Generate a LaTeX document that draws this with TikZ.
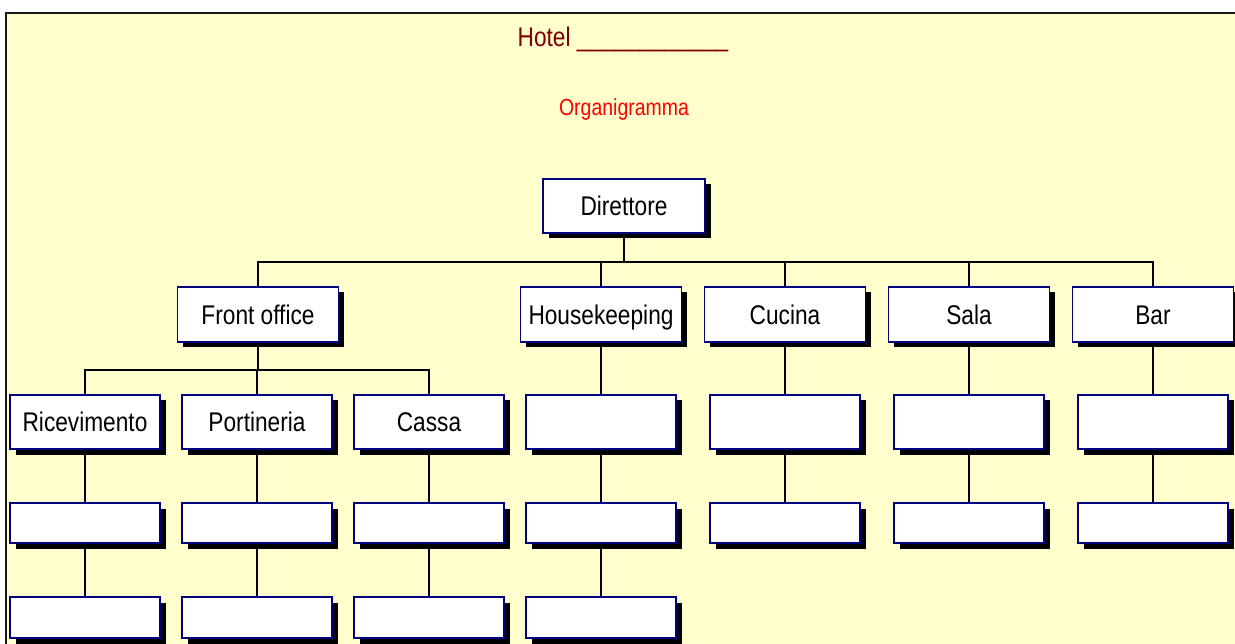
\documentclass[tikz,border=0pt]{standalone}
\usepackage{fontspec}
\usetikzlibrary{shadows}
\newfontfamily\orgfont[FakeStretch=0.84]{Liberation Sans}
\definecolor{paper}{RGB}{255,254,204}
\definecolor{boxline}{RGB}{0,0,128}
\definecolor{titlered}{RGB}{128,0,0}
\definecolor{subred}{RGB}{255,0,0}
\pgfdeclarelayer{paperlayer}
\pgfdeclarelayer{linklayer}
\pgfsetlayers{paperlayer,linklayer,main}
\tikzset{
  orgbox/.style={draw=boxline, line width=1.6pt, fill=white, inner sep=0pt,
    font=\orgfont\fontsize{27}{32}\selectfont, text height=19.3pt, text depth=0pt,
    drop shadow={shadow xshift=5.5pt, shadow yshift=-5.5pt, fill=black, opacity=1}},
  toprole/.style={orgbox, minimum width=162pt, minimum height=54pt},
  dept/.style={orgbox, minimum width=161pt, minimum height=55pt},
  unit/.style={orgbox, minimum width=150pt, minimum height=54pt},
  slot/.style={orgbox, minimum width=150pt, minimum height=40pt},
  link/.style={line width=1.4pt, black},
}
\begin{document}
\begin{tikzpicture}[x=1pt, y=-1pt]
\useasboundingbox (0,0) rectangle (1235,644);

% sheet
\begin{pgfonlayer}{paperlayer}
  \fill[paper] (7,14) rectangle (1235,644);
  \draw[line width=2pt, black!90] (6,644) -- (6,13) -- (1235,13);
\end{pgfonlayer}

% headings
\node[anchor=base, text=titlered, font=\orgfont\fontsize{27}{32}\selectfont, inner sep=0pt] (hotel) at (623,47) {Hotel \_\_\_\_\_\_\_\_\_\_\_\_};
\node[anchor=base, text=subred, font=\orgfont\fontsize{23.2}{28}\selectfont, inner sep=0pt] (orga) at (624,116) {Organigramma};

% top
\node[toprole] (dir) at (624,206) {Direttore};

% departments
\node[dept] (fo) at (258,314.5) {Front office};
\node[dept] (hk) at (601,314.5) {Housekeeping};
\node[dept] (cu) at (785,314.5) {Cucina};
\node[dept] (sa) at (969,314.5) {Sala};
\node[dept] (ba) at (1153,314.5) {Bar};

% third row
\node[unit] (ric) at (85,422) {Ricevimento};
\node[unit] (por) at (257,422) {Portineria};
\node[unit] (cas) at (429,422) {Cassa};
\node[unit] (hk1) at (601,422) {};
\node[unit] (cu1) at (785,422) {};
\node[unit] (sa1) at (969,422) {};
\node[unit] (ba1) at (1153,422) {};

% fourth row
\node[slot] (ric2) at (85,523) {};
\node[slot] (por2) at (257,523) {};
\node[slot] (cas2) at (429,523) {};
\node[slot] (hk2) at (601,523) {};
\node[slot] (cu2) at (785,523) {};
\node[slot] (sa2) at (969,523) {};
\node[slot] (ba2) at (1153,523) {};

% fifth row
\node[slot, minimum height=41pt] (ric3) at (85,617.5) {};
\node[slot, minimum height=41pt] (por3) at (257,617.5) {};
\node[slot, minimum height=41pt] (cas3) at (429,617.5) {};
\node[slot, minimum height=41pt] (hk3) at (601,617.5) {};

% connectors
\coordinate (busmain) at (624,262);
\coordinate (busfo) at (258,370);
\begin{pgfonlayer}{linklayer}
  \draw[link] (dir.south) -- (busmain);
  \draw[link] (fo.north) -- (fo.north |- busmain) -| (ba.north);
  \draw[link] (hk.north) -- (hk.north |- busmain);
  \draw[link] (cu.north) -- (cu.north |- busmain);
  \draw[link] (sa.north) -- (sa.north |- busmain);
  \draw[link] (fo.south) -- (busfo);
  \draw[link] (ric.north) -- (ric.north |- busfo) -| (cas.north);
  \draw[link] (por.north) -- (por.north |- busfo);
  \foreach \a/\b in {hk/hk1, cu/cu1, sa/sa1, ba/ba1,
                     ric/ric2, por/por2, cas/cas2, hk1/hk2, cu1/cu2, sa1/sa2, ba1/ba2,
                     ric2/ric3, por2/por3, cas2/cas3, hk2/hk3}
    \draw[link] (\a.south) -- (\b.north);
\end{pgfonlayer}
\end{tikzpicture}
\end{document}
